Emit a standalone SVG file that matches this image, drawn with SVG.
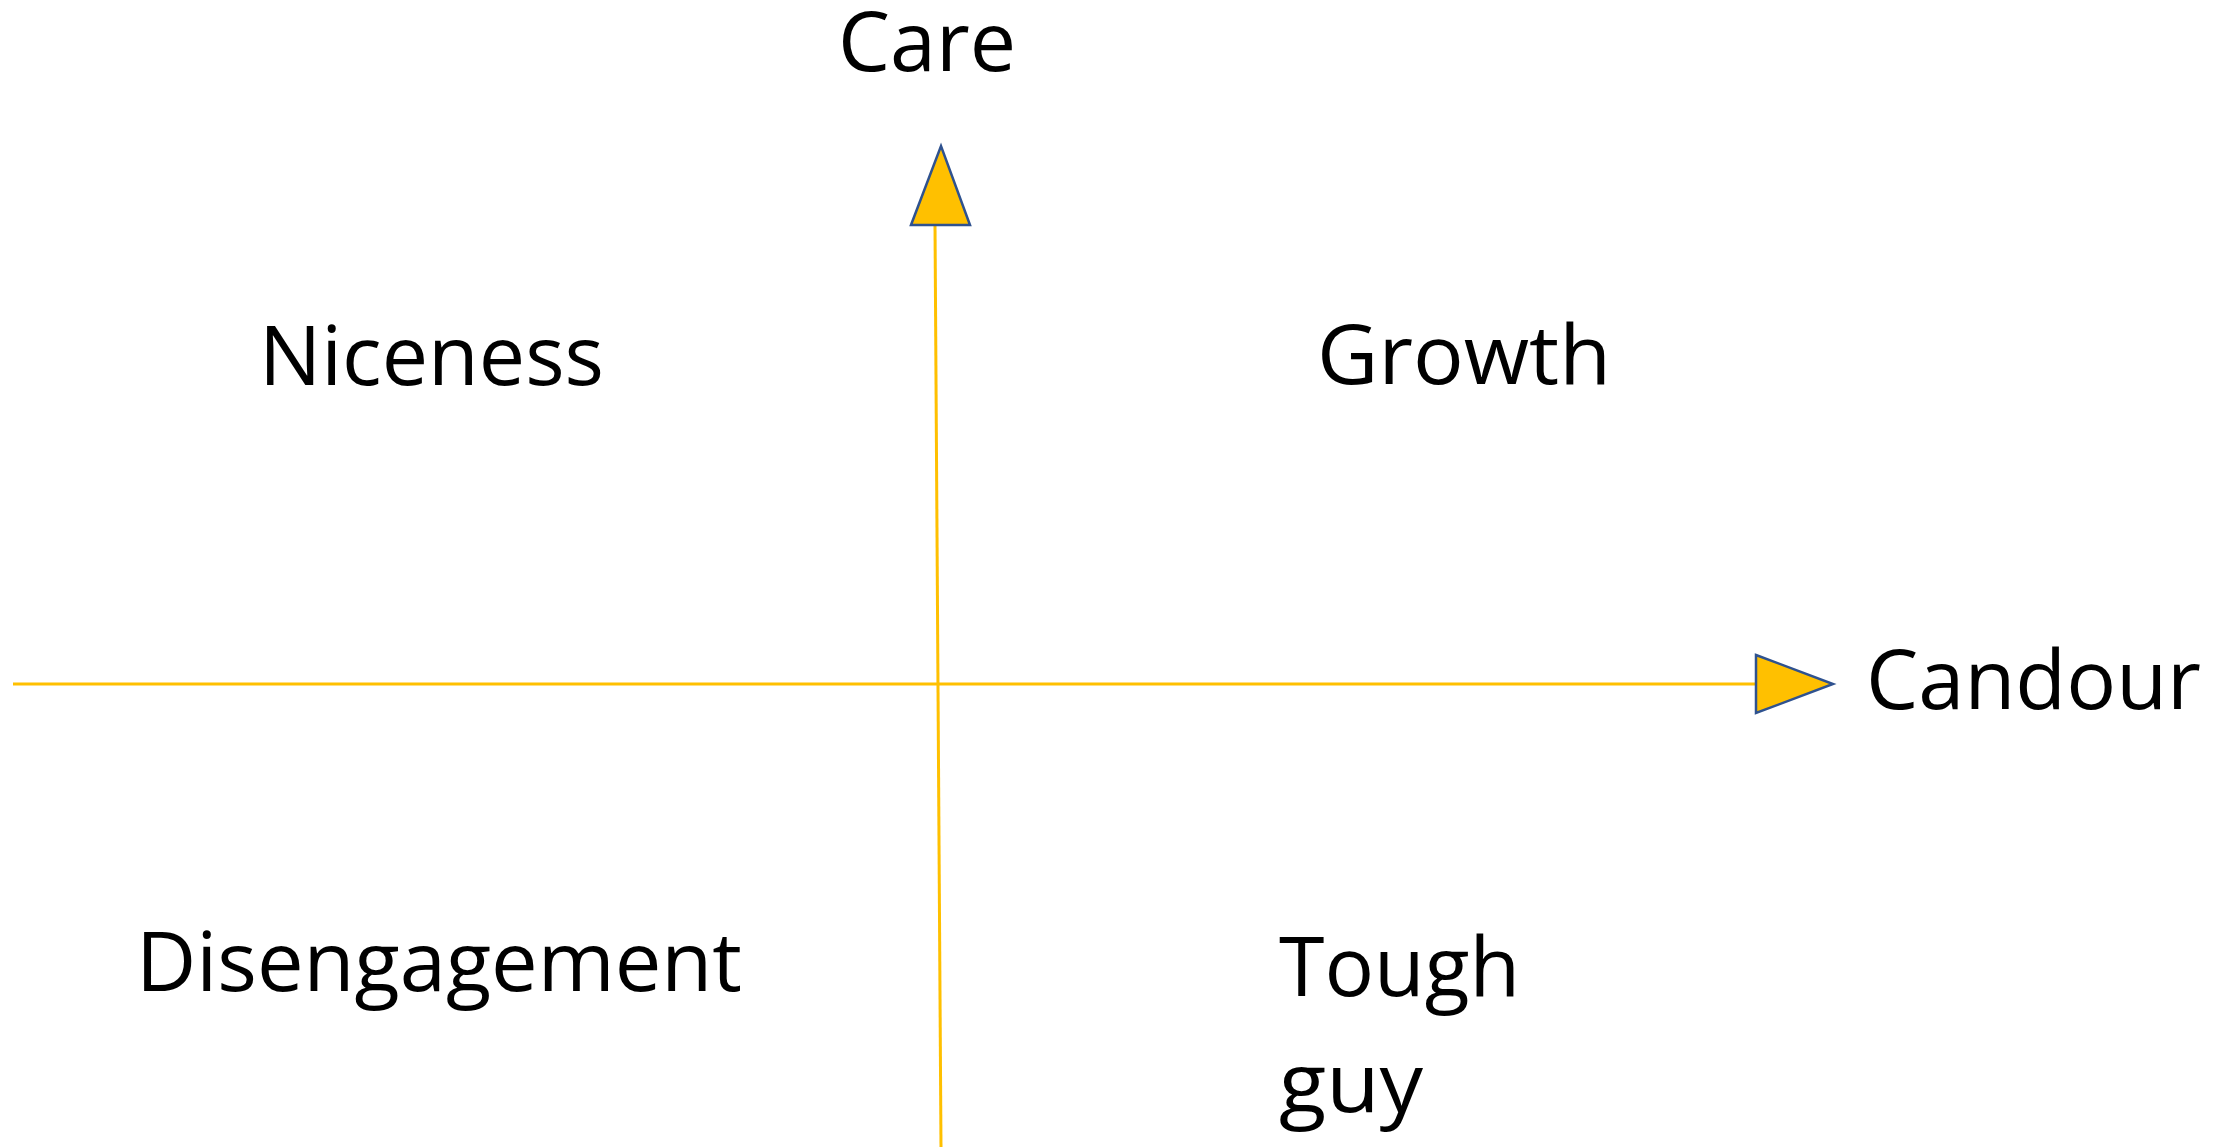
<svg xmlns="http://www.w3.org/2000/svg" width="2233" height="1147" viewBox="0 0 2233 1147">
<style>
.lbl{font-family:"Open Sans","Liberation Sans",sans-serif;font-size:83px;fill:#000}
.axis{stroke:#FFC000;stroke-width:3;fill:none}
.head{fill:#FFC000;stroke:#2F528F;stroke-width:2.5;stroke-linejoin:miter}
</style>
<rect width="2233" height="1147" fill="#fff"/>
<g id="connectors">
<line class="axis" x1="13" y1="684" x2="1756" y2="684"/>
<line class="axis" x1="935" y1="225" x2="941" y2="1147"/>
<polygon class="head" points="1756,655 1833,684 1756,713"/>
<polygon class="head" points="911,225 941,146 970,225"/>
</g>
<g id="care"><text class="lbl" x="838" y="71" textLength="178" lengthAdjust="spacingAndGlyphs">Care</text></g>
<g id="niceness"><text class="lbl" x="259" y="385" textLength="345" lengthAdjust="spacingAndGlyphs">Niceness</text></g>
<g id="growth"><text class="lbl" x="1317" y="384" textLength="294" lengthAdjust="spacingAndGlyphs">Growth</text></g>
<g id="candour"><text class="lbl" x="1866" y="709" textLength="335" lengthAdjust="spacingAndGlyphs">Candour</text></g>
<g id="disengagement"><text class="lbl" x="136" y="991" textLength="606" lengthAdjust="spacingAndGlyphs">Disengagement</text></g>
<g id="toughguy"><text class="lbl" x="1279" y="996" textLength="241" lengthAdjust="spacingAndGlyphs">Tough</text><text class="lbl" x="1279" y="1112" textLength="144" lengthAdjust="spacingAndGlyphs">guy</text></g>
</svg>
